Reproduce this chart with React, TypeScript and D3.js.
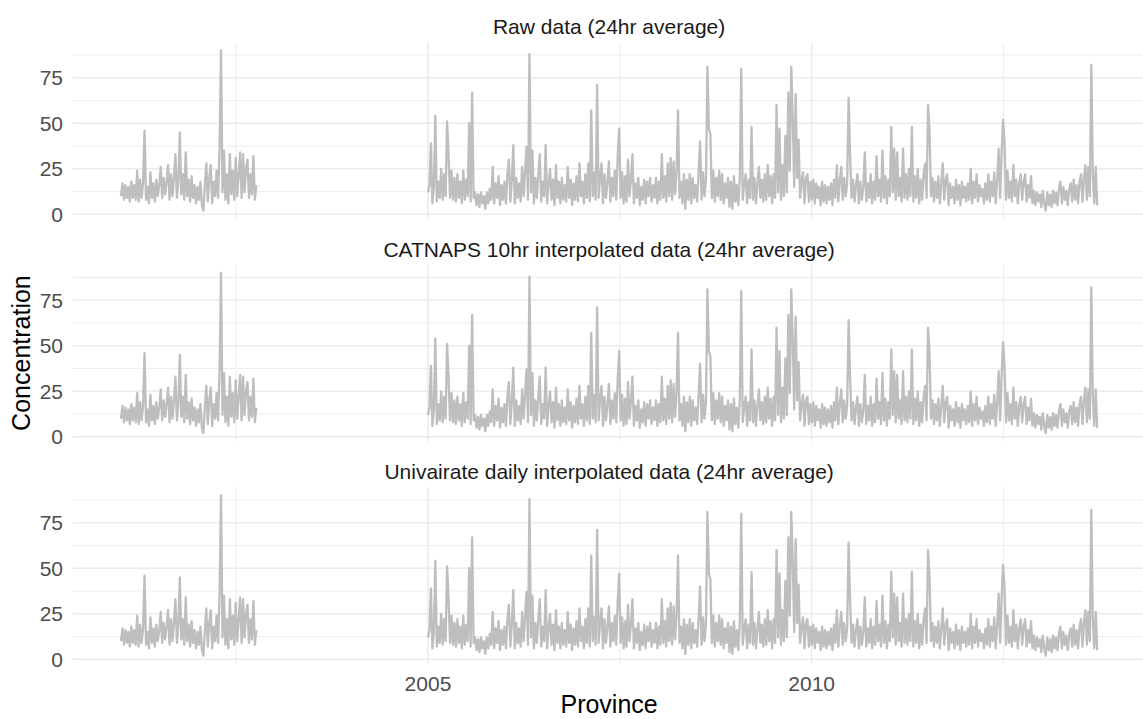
import React from 'react';
import * as d3 from 'd3';

// weekly readings, first block 2001-01 .. 2002-10, second block 2005-01 .. 2013-09
const startA = new Date(Date.UTC(2001, 0, 1));
const startB = new Date(Date.UTC(2005, 0, 1));
const stepDays = 7;

const seriesA = [
  10, 17, 8, 16, 9, 15, 7, 18, 9, 16, 8, 24, 7, 19, 9, 17, 46, 8, 15, 6,
  23, 9, 17, 7, 19, 10, 16, 26, 9, 20, 11, 18, 27, 8, 22, 10, 20, 33, 9, 18,
  45, 11, 22, 8, 34, 10, 19, 7, 21, 9, 16, 6, 15, 8, 18, 5, 2, 16, 28, 7,
  20, 27, 6, 18, 10, 24, 9, 36, 90, 12, 35, 8, 22, 6, 33, 11, 24, 8, 31, 10,
  22, 34, 9, 33, 12, 25, 30, 9, 22, 11, 32, 8, 16,
];

const seriesB = [
  12, 16, 39, 6, 15, 54, 7, 18, 9, 25, 8, 22, 10, 51, 33, 9, 24, 8, 20, 7,
  22, 9, 18, 6, 24, 8, 19, 10, 50, 7, 67, 9, 12, 5, 11, 4, 12, 6, 10, 3,
  12, 6, 14, 8, 26, 6, 17, 9, 21, 5, 16, 8, 18, 6, 22, 30, 7, 19, 38, 6,
  20, 9, 17, 7, 26, 10, 24, 37, 8, 88, 12, 35, 6, 20, 9, 22, 33, 7, 18, 10,
  38, 6, 17, 25, 8, 19, 5, 27, 9, 18, 6, 20, 8, 16, 7, 26, 9, 19, 5, 17,
  8, 21, 7, 28, 10, 18, 6, 22, 9, 28, 7, 57, 10, 23, 8, 71, 9, 20, 28, 6,
  22, 9, 18, 29, 7, 20, 10, 24, 8, 32, 47, 9, 23, 6, 21, 7, 30, 10, 19, 33,
  6, 17, 9, 20, 5, 15, 8, 19, 6, 18, 10, 20, 7, 16, 9, 20, 6, 18, 8, 33,
  9, 21, 7, 28, 10, 31, 8, 29, 11, 24, 57, 9, 18, 6, 22, 3, 19, 8, 22, 6,
  20, 9, 16, 7, 23, 40, 8, 23, 10, 19, 81, 47, 44, 9, 24, 7, 20, 10, 24, 8,
  22, 6, 17, 9, 20, 4, 18, 3, 21, 7, 16, 5, 20, 80, 8, 17, 22, 6, 19, 9,
  48, 8, 20, 6, 17, 26, 9, 19, 7, 22, 8, 27, 10, 21, 6, 22, 9, 60, 12, 47,
  8, 27, 10, 43, 12, 67, 24, 81, 54, 15, 66, 20, 41, 9, 18, 23, 6, 20, 22, 7,
  18, 8, 19, 6, 17, 9, 15, 5, 18, 7, 16, 6, 15, 8, 17, 5, 19, 9, 27, 7,
  18, 26, 8, 20, 10, 17, 64, 32, 9, 19, 7, 16, 22, 6, 18, 8, 15, 34, 7, 17,
  9, 22, 6, 18, 8, 32, 10, 19, 7, 35, 9, 21, 6, 19, 10, 48, 12, 36, 8, 34,
  10, 20, 7, 36, 9, 22, 8, 25, 10, 48, 7, 21, 9, 25, 6, 19, 8, 22, 28, 9,
  60, 46, 10, 20, 7, 18, 9, 21, 6, 17, 28, 8, 19, 22, 5, 17, 9, 15, 6, 19,
  8, 16, 5, 18, 9, 15, 7, 17, 8, 25, 6, 18, 9, 22, 7, 16, 10, 14, 6, 17,
  8, 22, 7, 18, 10, 23, 6, 19, 36, 9, 33, 52, 39, 8, 24, 9, 18, 7, 27, 10,
  19, 6, 17, 22, 8, 18, 22, 7, 16, 9, 21, 6, 13, 5, 12, 7, 11, 4, 13, 6,
  2, 12, 5, 11, 4, 13, 6, 12, 5, 14, 18, 6, 15, 8, 13, 5, 14, 17, 7, 19,
  8, 16, 6, 18, 22, 7, 20, 27, 8, 26, 10, 82, 22, 6, 26, 5,
];

const panelTitles = [
  'Raw data (24hr average)',
  'CATNAPS 10hr interpolated data (24hr average)',
  'Univairate daily interpolated data (24hr average)',
];
const yTicks = [0, 25, 50, 75];
const yMinorTicks = [12.5, 37.5, 62.5, 87.5];
const xTickYears = [2005, 2010];
const xMinorYears = [2002.5, 2007.5, 2012.5];

const toPoints = (start: Date, values: number[]) =>
  values.map((v, i) => ({ date: d3.utcDay.offset(start, i * stepDays), value: v }));

const yearDate = (y: number) => {
  const whole = Math.floor(y);
  const a = Date.UTC(whole, 0, 1);
  const b = Date.UTC(whole + 1, 0, 1);
  return new Date(a + (y - whole) * (b - a));
};

const App = () => {
  const width = 1143;
  const height = 719;
  const panelLeft = 72.2;
  const panelRight = 1146;
  const panelTops = [42.4, 264.9, 487.4];
  const panelHeight = 176.3;

  const dataA = toPoints(startA, seriesA);
  const dataB = toPoints(startB, seriesB);

  const t0 = +dataA[0].date;
  const t1 = +dataB[dataB.length - 1].date;
  const tPad = (t1 - t0) * 0.05;
  const xScale = d3
    .scaleUtc()
    .domain([new Date(t0 - tPad), new Date(t1 + tPad)])
    .range([panelLeft, panelRight]);

  const [vMin, vMax] = d3.extent([...seriesA, ...seriesB]) as [number, number];
  const vPad = (vMax - vMin) * 0.05;

  const font = '"Liberation Sans", Arial, Helvetica, sans-serif';

  return (
    <svg
      width={width}
      height={height}
      style={{ position: 'absolute', left: 0, top: 0, background: '#fff' }}
      fontFamily={font}
    >
      {panelTops.map((top, p) => {
        const yScale = d3
          .scaleLinear()
          .domain([vMin - vPad, vMax + vPad])
          .range([top + panelHeight, top]);
        const line = d3
          .line<{ date: Date; value: number }>()
          .x(d => xScale(d.date))
          .y(d => yScale(d.value));
        return (
          <g key={p}>
            {yMinorTicks.map(t => (
              <line key={'ym' + t} x1={panelLeft} x2={panelRight} y1={yScale(t)} y2={yScale(t)} stroke='#EBEBEB' strokeWidth={0.9} />
            ))}
            {xMinorYears.map(t => (
              <line key={'xm' + t} x1={xScale(yearDate(t))} x2={xScale(yearDate(t))} y1={top} y2={top + panelHeight} stroke='#EBEBEB' strokeWidth={0.9} />
            ))}
            {yTicks.map(t => (
              <line key={'y' + t} x1={panelLeft} x2={panelRight} y1={yScale(t)} y2={yScale(t)} stroke='#EBEBEB' strokeWidth={1.5} />
            ))}
            {xTickYears.map(t => (
              <line key={'x' + t} x1={xScale(yearDate(t))} x2={xScale(yearDate(t))} y1={top} y2={top + panelHeight} stroke='#EBEBEB' strokeWidth={1.5} />
            ))}
            <path d={line(dataA) || ''} fill='none' stroke='#BEBEBE' strokeWidth={2.3} strokeLinejoin='round' />
            <path d={line(dataB) || ''} fill='none' stroke='#BEBEBE' strokeWidth={2.3} strokeLinejoin='round' />
            {yTicks.map(t => (
              <text key={'yl' + t} x={63} y={yScale(t)} dy='0.36em' textAnchor='end' fontSize={21} fill='#4D4D4D'>
                {t}
              </text>
            ))}
            <text x={(panelLeft + panelRight) / 2} y={top - 8} textAnchor='middle' fontSize={21} fill='#1A1A1A'>
              {panelTitles[p]}
            </text>
          </g>
        );
      })}
      {xTickYears.map(t => (
        <text key={'xl' + t} x={xScale(yearDate(t))} y={691} textAnchor='middle' fontSize={21} fill='#4D4D4D'>
          {t}
        </text>
      ))}
      <text x={(panelLeft + panelRight) / 2} y={713} textAnchor='middle' fontSize={25} fill='#000'>
        Province
      </text>
      <text
        transform={`translate(30,${(panelTops[0] + panelTops[2] + panelHeight) / 2}) rotate(-90)`}
        textAnchor='middle'
        fontSize={25}
        fill='#000'
      >
        Concentration
      </text>
    </svg>
  );
};

export default App;
